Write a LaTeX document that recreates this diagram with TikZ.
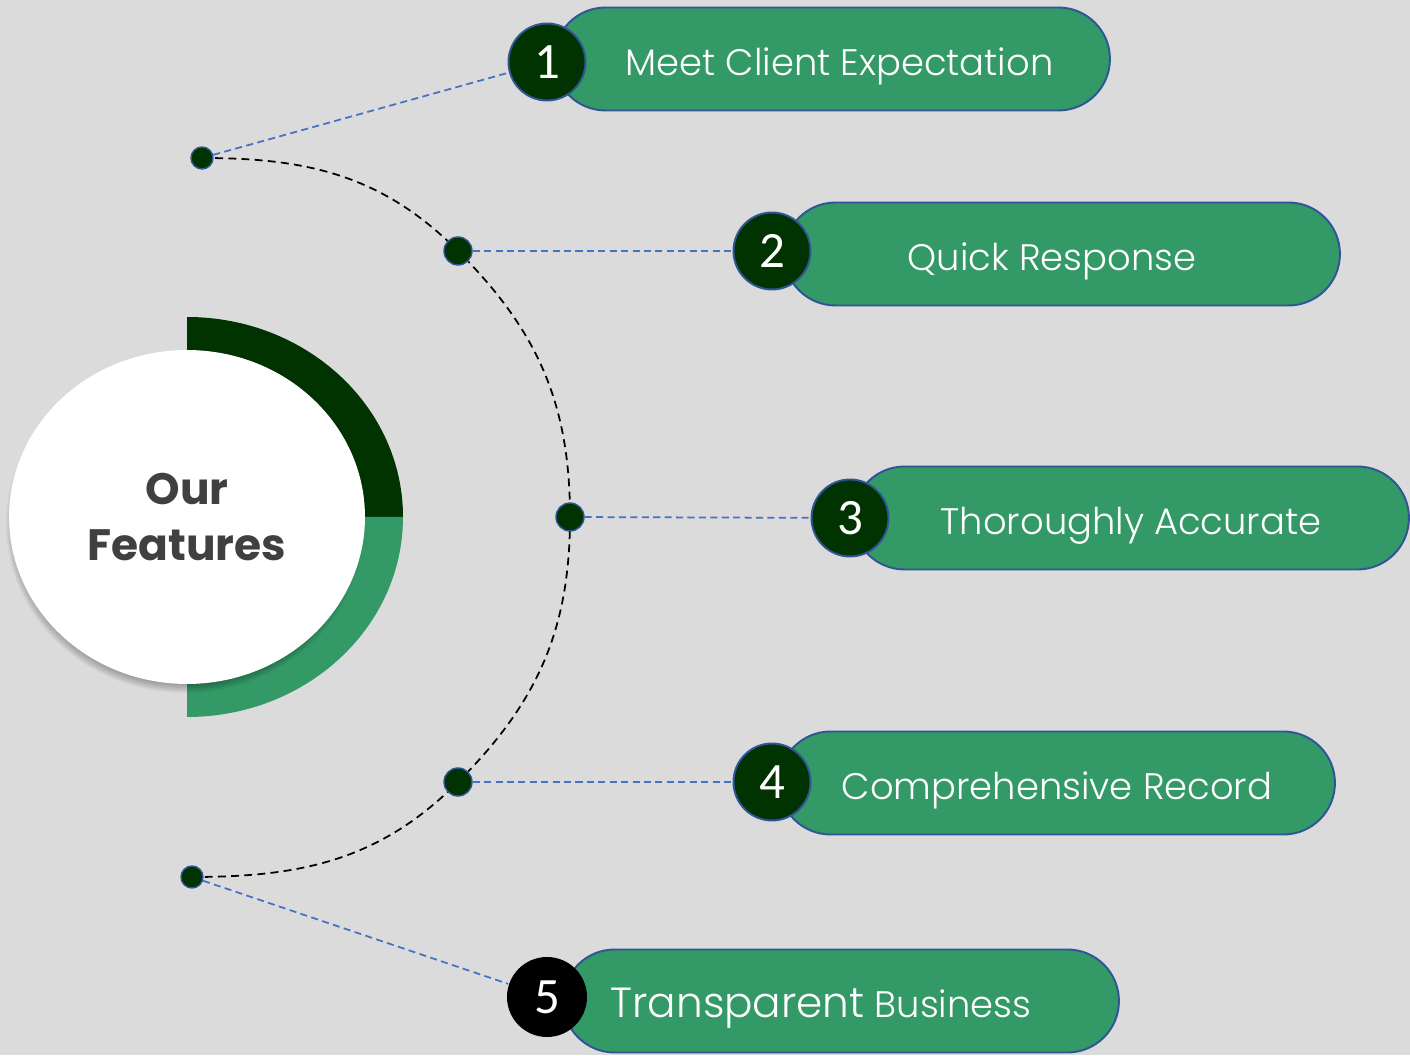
\documentclass[tikz,border=0pt]{standalone}
\usepackage{fontspec}
\setmainfont{Poppins}
\newfontfamily\pillfont{Poppins Light}
\newfontfamily\numfont{Carlito}
\usetikzlibrary{shapes.geometric,shapes.misc}

\definecolor{bgGrey}{HTML}{DBDBDB}
\definecolor{leafGreen}{HTML}{339966}
\definecolor{forestGreen}{HTML}{003300}
\definecolor{rimBlue}{HTML}{2F5597}
\definecolor{linkBlue}{HTML}{4472C4}
\definecolor{titleGrey}{HTML}{404040}

\pgfdeclarelayer{back}
\pgfdeclarelayer{links}
\pgfsetlayers{back,links,main}

\tikzset{
	feature pill/.style={rounded rectangle, draw=rimBlue, line width=1.1pt,
		fill=leafGreen, minimum width=11.12cm, minimum height=2.06cm,
		inner sep=0pt, text height=19pt, text depth=0pt, text=white,
		font=\pillfont\fontsize{21}{24}\selectfont},
	num badge/.style={circle, draw=rimBlue, line width=1.1pt, fill=forestGreen,
		minimum size=1.54cm, inner sep=0pt, text=white,
		font=\numfont\fontsize{29}{30}\selectfont},
	joint/.style={circle, draw=rimBlue, line width=0.8pt, fill=forestGreen,
		minimum size=#1, inner sep=0pt},
	joint/.default=0.56cm,
	link/.style={draw=linkBlue, line width=1pt, dash pattern=on 4pt off 2.5pt},
}

\begin{document}
\begin{tikzpicture}[x=0.02cm, y=0.02cm]
	\useasboundingbox (0,0) rectangle (1410,1055);

	\begin{pgfonlayer}{back}
	    % Background sheet
	    \fill[bgGrey] (0,0) rectangle (1410,1055);

	    % Two quarter rings behind the hub
	    \coordinate (hub centre) at (187,538);
	    \fill[forestGreen] (hub centre) -- ++(0,200)
		arc[start angle=90, end angle=0, x radius=216, y radius=200] -- cycle;
	    \fill[leafGreen] (hub centre) -- ++(216,0)
		arc[start angle=0, end angle=-90, x radius=216, y radius=200] -- cycle;

	    % Soft shadow under the hub
	    \foreach \k in {0,...,9}
		\fill[black, opacity=0.03] (185,531)
		    ellipse[x radius=170+\k, y radius=160+\k];

	    % The hub itself
	    \node[ellipse, fill=white, minimum width=7.12cm, minimum height=6.68cm,
		inner sep=0pt, align=center, text=titleGrey,
		font=\bfseries\fontsize{25}{32}\selectfont] (hub) at (hub centre)
		{Our\\Features};
	\end{pgfonlayer}

	% Junction dots along the arc
	\node[joint=0.44cm] (dot1) at (202,897) {};
	\node[joint] (dot2) at (458,804) {};
	\node[joint] (dot3) at (570,538) {};
	\node[joint] (dot4) at (458,273) {};
	\node[joint=0.44cm] (dot5) at (192,178) {};

	% Feature pills with their numbers
	\node[feature pill] (pill1) at (832,996) {\hspace*{0.3cm}Meet Client Expectation};
	\node[feature pill] (pill2) at (1062,801) {\hspace*{-0.4cm}Quick Response};
	\node[feature pill] (pill3) at (1131,537) {Thoroughly Accurate};
	\node[feature pill] (pill4) at (1057,272) {Comprehensive Record};
	\node[feature pill] (pill5) at (841,54)
		{\hspace*{-0.8cm}{\fontsize{24}{24}\selectfont Transparent} Business};

	\node[num badge] (badge1) at (547,993) {1};
	\node[num badge] (badge2) at (772,804) {2};
	\node[num badge] (badge3) at (850,537) {3};
	\node[num badge] (badge4) at (772,273) {4};
	\node[num badge, draw=none, fill=black, minimum size=1.6cm] (badge5) at (547,58) {5};

	\begin{pgfonlayer}{links}
	    % The black dashed arc through the dots
	    \draw[line width=1pt, dash pattern=on 4.5pt off 3pt] (dot1.center)
		to[out=0, in=135] (dot2.center)
		to[out=-45, in=90] (dot3.center)
		to[out=-90, in=45] (dot4.center)
		to[out=-135, in=0] (dot5.center);

	    % Blue leaders from dots to numbers
	    \foreach \i in {1,...,5}
		\draw[link] (dot\i) -- (badge\i);
	\end{pgfonlayer}
\end{tikzpicture}
\end{document}
